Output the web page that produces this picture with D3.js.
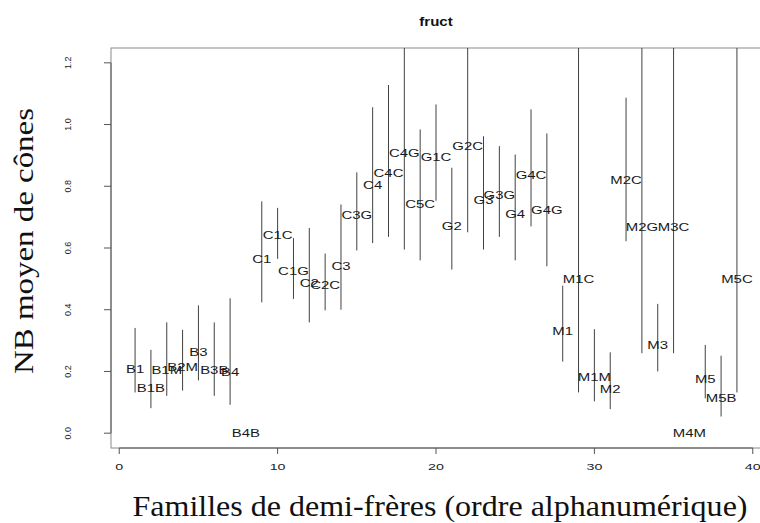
<!DOCTYPE html>
<html>
<head>
<meta charset="utf-8">
<script src="https://cdn.jsdelivr.net/npm/d3@7"></script>
<style>
  body { margin: 0; background: #fff; }
</style>
</head>
<body>
<div id="main-container"></div>
<script>
// DATA
const families = ["B1", "B1B", "B1M", "B2M", "B3", "B3B", "B4", "B4B",
    "C1", "C1C", "C1G", "C2", "C2C", "C3", "C3G", "C4", "C4C", "C4G", "C5C",
    "G1C", "G2", "G2C", "G3", "G3G", "G4", "G4C", "G4G",
    "M1", "M1C", "M1M", "M2", "M2C", "M2G", "M3", "M3C", "M4M", "M5", "M5B", "M5C"];
const means = [0.209, 0.146, 0.205, 0.214, 0.265, 0.205, 0.198, 0.0,
    0.564, 0.643, 0.527, 0.487, 0.481, 0.543, 0.706, 0.805, 0.845, 0.908, 0.743,
    0.895, 0.672, 0.932, 0.757, 0.771, 0.711, 0.836, 0.722,
    0.333, 0.500, 0.184, 0.143, 0.822, 0.667, 0.286, 0.667, 0.0, 0.176, 0.113, 0.500];
const lows = [0.132, 0.081, 0.121, 0.138, 0.171, 0.121, 0.092, 0.0,
    0.424, 0.565, 0.435, 0.359, 0.398, 0.400, 0.592, 0.616, 0.636, 0.595, 0.560,
    0.753, 0.530, 0.651, 0.595, 0.636, 0.560, 0.670, 0.541,
    0.232, 0.132, 0.103, 0.078, 0.622, 0.259, 0.200, 0.259, 0.0, 0.113, 0.054, 0.132];
const highs = [0.341, 0.270, 0.359, 0.335, 0.414, 0.359, 0.437, 0.0,
    0.751, 0.730, 0.632, 0.665, 0.582, 0.741, 0.845, 1.056, 1.128, 1.45, 0.984,
    1.065, 0.860, 1.45, 0.962, 0.930, 0.903, 1.049, 0.971,
    0.478, 1.45, 0.337, 0.262, 1.087, 1.45, 0.419, 1.45, 0.0, 0.286, 0.251, 1.45];
const xTicks = [0, 10, 20, 30, 40];
const yTicks = [0.0, 0.2, 0.4, 0.6, 0.8, 1.0, 1.2];

const title = "fruct";
const xTitle = "Familles de demi-frères (ordre alphanumérique)";
const yTitle = "NB moyen de cônes";

// SETUP
const width = 760, height = 523;
const box = {left: 111, right: 761, top: 48, bottom: 448};

const rows = families.map((f, i) => ({name: f, idx: i + 1, mean: means[i], low: lows[i], high: highs[i]}));

const svg = d3.select("#main-container")
    .append("svg")
        .attr("width", width)
        .attr("height", height)
        .style("font-family", "'Liberation Sans', Arial, sans-serif");

// R style 4% expansion around 1..39 and 0..1.2
const x = d3.scaleLinear().domain([-0.52, 40.52]).range([box.left, box.right]);
const y = d3.scaleLinear().domain([-0.048, 1.248]).range([box.bottom, box.top]);

svg.append("clipPath")
    .attr("id", "plot-clip")
    .append("rect")
        .attr("x", box.left)
        .attr("y", box.top)
        .attr("width", box.right - box.left)
        .attr("height", box.bottom - box.top);

// box
svg.append("rect")
    .attr("x", box.left)
    .attr("y", box.top)
    .attr("width", box.right - box.left)
    .attr("height", box.bottom - box.top)
    .attr("fill", "none")
    .attr("stroke", "#8a8a8a")
    .attr("stroke-width", 1);

// x axis
const xAxis = svg.append("g").attr("transform", `translate(0, ${box.bottom})`);
xAxis.append("line")
    .attr("x1", x(0)).attr("x2", x(40))
    .attr("stroke", "#555");
xAxis.selectAll(".tick")
    .data(xTicks)
    .enter()
    .append("line")
        .attr("x1", d => x(d)).attr("x2", d => x(d))
        .attr("y1", 0).attr("y2", 6)
        .attr("stroke", "#555");
xAxis.selectAll(".lab")
    .data(xTicks)
    .enter()
    .append("text")
        .attr("transform", d => `translate(${x(d)}, 22) scale(1.5, 1)`)
        .attr("text-anchor", "middle")
        .attr("font-size", 9.5)
        .attr("fill", "#222")
        .text(d => d);

// y axis
const yAxis = svg.append("g").attr("transform", `translate(${box.left}, 0)`);
yAxis.append("line")
    .attr("y1", y(0)).attr("y2", y(1.2))
    .attr("stroke", "#555");
yAxis.selectAll(".tick")
    .data(yTicks)
    .enter()
    .append("line")
        .attr("y1", d => y(d)).attr("y2", d => y(d))
        .attr("x1", 0).attr("x2", -7)
        .attr("stroke", "#555");
yAxis.selectAll(".lab")
    .data(yTicks)
    .enter()
    .append("text")
        .attr("transform", d => `translate(-40, ${y(d)}) rotate(-90)`)
        .attr("text-anchor", "middle")
        .attr("font-size", 9)
        .attr("fill", "#222")
        .text(d => d.toFixed(1));

// interval lines
svg.append("g")
    .attr("clip-path", "url(#plot-clip)")
    .selectAll("line")
    .data(rows.filter(d => d.high > d.low))
    .enter()
    .append("line")
        .attr("x1", d => x(d.idx)).attr("x2", d => x(d.idx))
        .attr("y1", d => y(d.low)).attr("y2", d => y(d.high))
        .attr("stroke", "#404040")
        .attr("stroke-width", 1);

// family labels at the means
svg.append("g")
    .selectAll("text")
    .data(rows)
    .enter()
    .append("text")
        .attr("transform", d => `translate(${x(d.idx)}, ${y(d.mean)}) scale(1.3, 1)`)
        .attr("text-anchor", "middle")
        .attr("dy", "0.36em")
        .attr("font-size", 11.5)
        .attr("fill", "#1a1a1a")
        .text(d => d.name);

// titles
svg.append("text")
    .attr("transform", `translate(${(box.left + box.right) / 2}, 26) scale(1.25, 1)`)
    .attr("text-anchor", "middle")
    .attr("font-size", 12)
    .attr("font-weight", "bold")
    .attr("fill", "#111")
    .text(title);

svg.append("text")
    .attr("x", 440)
    .attr("y", 516)
    .attr("text-anchor", "middle")
    .attr("font-family", "'Liberation Serif', 'Times New Roman', serif")
    .attr("font-size", 30)
    .attr("textLength", 615)
    .attr("lengthAdjust", "spacingAndGlyphs")
    .attr("fill", "#111")
    .text(xTitle);

svg.append("text")
    .attr("transform", "translate(33, 241) rotate(-90)")
    .attr("text-anchor", "middle")
    .attr("font-family", "'Liberation Serif', 'Times New Roman', serif")
    .attr("font-size", 27)
    .attr("textLength", 266)
    .attr("lengthAdjust", "spacingAndGlyphs")
    .attr("fill", "#111")
    .text(yTitle);
</script>
</body>
</html>
